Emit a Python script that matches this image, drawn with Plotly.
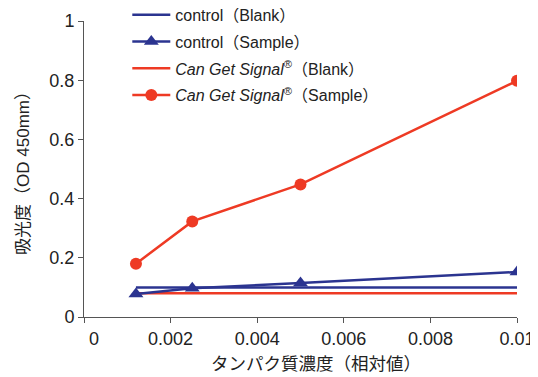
import plotly.graph_objects as go

conc = [0.0012, 0.0025, 0.005, 0.01]
control_blank = [0.1, 0.1, 0.1, 0.1]
control_sample = [0.078, 0.097, 0.115, 0.152]
cgs_blank = [0.08, 0.08, 0.08, 0.08]
cgs_sample = [0.18, 0.323, 0.448, 0.798]

x_ticks = [0, 0.002, 0.004, 0.006, 0.008, 0.01]
x_labels = ["\u00a0\u00a0\u00a0\u00a00", "0.002", "0.004", "0.006", "0.008", "0.01"]
y_ticks = [0, 0.2, 0.4, 0.6, 0.8, 1]
y_labels = ["0", "0.2", "0.4", "0.6", "0.8", "1"]

BLUE = "#2b3490"
RED = "#ee3a24"
FONT = "Liberation Sans, Noto Sans CJK JP"

fig = go.Figure()
fig.add_trace(go.Scatter(x=conc, y=control_blank, mode="lines", name="control（Blank）",
                         line=dict(color=BLUE, width=2.5), legendgroup="a", legendrank=1))
fig.add_trace(go.Scatter(x=conc, y=cgs_blank, mode="lines", name="<i>Can Get Signal</i><sup>®</sup>（Blank）",
                         line=dict(color=RED, width=2.5), legendgroup="c", legendrank=3))
fig.add_trace(go.Scatter(x=conc, y=control_sample, mode="lines+markers", name="control（Sample）",
                         line=dict(color=BLUE, width=2.5),
                         marker=dict(symbol="triangle-up", size=13, color=BLUE), legendgroup="b", legendrank=2))
fig.add_trace(go.Scatter(x=conc, y=cgs_sample, mode="lines+markers", name="<i>Can Get Signal</i><sup>®</sup>（Sample）",
                         line=dict(color=RED, width=2.5),
                         marker=dict(symbol="circle", size=12, color=RED), legendgroup="d", legendrank=4))

axis_common = dict(showgrid=False, zeroline=False, showline=True, linecolor="#555555", linewidth=1,
                   ticks="outside", ticklen=5, tickcolor="#555555",
                   tickfont=dict(family=FONT, size=18, color="#222222"))

fig.update_layout(
    width=530, height=369,
    margin=dict(l=76, r=21, t=0, b=60, autoexpand=False),
    paper_bgcolor="white", plot_bgcolor="white",
    font=dict(family=FONT, color="#222222"),
    xaxis=dict(range=[0, 0.01], tickvals=x_ticks, ticktext=x_labels, **axis_common),
    yaxis=dict(range=[0, 1], domain=[0, 296 / 309], tickvals=y_ticks, ticktext=y_labels,
               title=dict(text="吸光度（OD 450mm）", font=dict(size=17), standoff=15), **axis_common),
    legend=dict(x=0.1, y=1.033, xanchor="left", yanchor="top", bgcolor="rgba(0,0,0,0)",
                font=dict(size=16), traceorder="grouped", tracegroupgap=3, itemwidth=38),
    annotations=[dict(text="タンパク質濃度（相対値）", xref="x domain", yref="y domain",
                      x=0.536, y=0, xanchor="center", yanchor="middle", yshift=-47,
                      showarrow=False, font=dict(size=17.5, family=FONT, color="#222222"))],
)

fig.write_html("out.html")
